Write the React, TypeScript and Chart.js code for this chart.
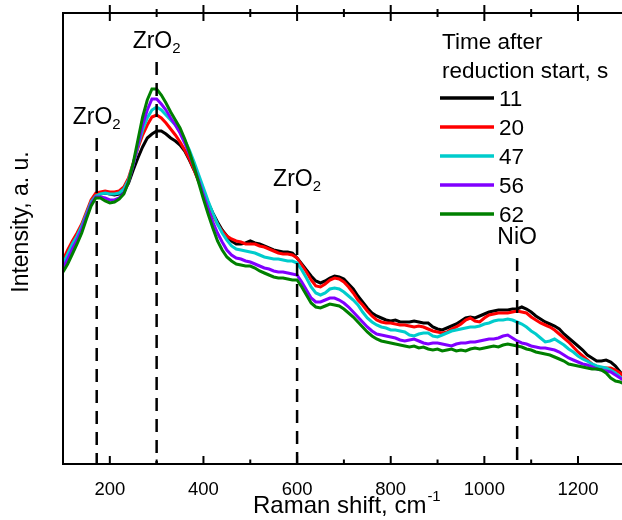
import React, { useEffect, useRef } from 'react';
import { Chart, registerables } from 'chart.js';

Chart.register(...registerables);

const FONT = '"Liberation Sans", Arial, sans-serif';

// Raman shift (cm-1) sample positions
const ramanShift = [
  100, 110, 120, 130, 140, 150, 160, 170, 180, 190,
  200, 210, 220, 230, 240, 250, 260, 270, 280, 290,
  300, 310, 320, 330, 340, 350, 360, 370, 380, 390,
  400, 410, 420, 430, 440, 450, 460, 470, 480, 490,
  500, 510, 520, 530, 540, 550, 560, 570, 580, 590,
  600, 610, 620, 630, 640, 650, 660, 670, 680, 690,
  700, 710, 720, 730, 740, 750, 760, 770, 780, 790,
  800, 810, 820, 830, 840, 850, 860, 870, 880, 890,
  900, 910, 920, 930, 940, 950, 960, 970, 980, 990,
  1000, 1010, 1020, 1030, 1040, 1050, 1060, 1070, 1080, 1090,
  1100, 1110, 1120, 1130, 1140, 1150, 1160, 1170, 1180, 1190,
  1200, 1210, 1220, 1230, 1240, 1250, 1260, 1270, 1280, 1290,
  1300,
];

// Intensity (a.u.) for each time after reduction start
const int11 = [
  199, 207, 217, 226, 236, 249, 261, 268, 270, 271,
  270, 269, 270, 273, 281, 294, 306, 317, 326, 330,
  333, 333, 330, 326, 323, 319, 313, 304, 294, 283,
  273, 261, 251, 242, 234, 228, 223, 220, 220, 221,
  223, 221, 220, 218, 216, 214, 213, 212, 212, 211,
  206, 200, 194, 188, 183, 181, 183, 186, 188, 187,
  185, 180, 175, 168, 162, 156, 151, 148, 146, 144,
  143, 144, 142, 142, 142, 143, 142, 141, 141, 137,
  135, 134, 136, 138, 140, 143, 146, 147, 146, 148,
  150, 152, 153, 154, 154, 154, 155, 155, 157, 155,
  152, 148, 145, 142, 140, 138, 135, 130, 126, 122,
  118, 114, 109, 106, 103, 103, 104, 102, 98, 92,
  88,
];
const int20 = [
  204, 214, 223, 231, 240, 252, 264, 271, 272, 273,
  272, 272, 273, 277, 286, 301, 316, 329, 339, 347,
  349, 346, 341, 335, 329, 322, 314, 305, 294, 282,
  271, 259, 249, 240, 233, 228, 225, 223, 222, 220,
  220, 220, 218, 217, 215, 213, 211, 210, 210, 209,
  206, 199, 192, 184, 178, 177, 180, 184, 186, 185,
  182, 177, 171, 164, 159, 153, 148, 144, 142, 141,
  141, 140, 139, 139, 138, 137, 138, 137, 135, 133,
  132, 131, 132, 135, 137, 140, 144, 146, 143, 142,
  146, 149, 150, 151, 151, 151, 152, 153, 152, 151,
  147, 144, 141, 139, 137, 134, 130, 126, 122, 117,
  112, 108, 104, 100, 97, 96, 96, 96, 94, 91,
  86,
];
const int47 = [
  200, 210, 220, 228, 238, 250, 262, 268, 270, 271,
  270, 270, 271, 275, 284, 300, 318, 334, 346, 354,
  357, 354, 349, 344, 339, 332, 324, 314, 302, 289,
  276, 263, 251, 240, 231, 224, 218, 215, 214, 213,
  212, 211, 209, 207, 206, 205, 205, 204, 203, 203,
  201, 194, 186, 177, 171, 169, 171, 175, 176, 175,
  172, 168, 164, 159, 152, 146, 142, 139, 137, 136,
  134, 134, 133, 132, 129, 128, 130, 131, 131, 128,
  127, 129, 131, 133, 134, 135, 136, 137, 137, 138,
  140, 141, 143, 144, 144, 145, 144, 142, 140, 137,
  133, 130, 126, 122, 123, 125, 122, 119, 115, 112,
  108, 105, 103, 100, 98, 97, 96, 94, 91, 87,
  84,
];
const int56 = [
  196, 205, 215, 224, 235, 248, 260, 267, 267, 266,
  264, 264, 266, 271, 282, 299, 319, 339, 354, 365,
  365, 360, 354, 346, 339, 331, 321, 310, 297, 283,
  269, 255, 242, 231, 222, 214, 209, 206, 205, 203,
  202, 200, 198, 196, 195, 193, 192, 192, 191, 190,
  189, 182, 174, 166, 162, 162, 164, 166, 166, 164,
  161, 157, 152, 147, 142, 137, 133, 130, 129, 128,
  127, 126, 124, 123, 124, 125, 123, 121, 120, 121,
  121, 120, 119, 118, 120, 121, 121, 122, 122, 123,
  124, 125, 125, 126, 128, 129, 126, 123, 121, 120,
  118, 117, 116, 116, 115, 114, 112, 109, 106, 104,
  102, 100, 99, 97, 95, 94, 93, 92, 89, 86,
  83,
];
const int62 = [
  192, 200, 210, 220, 231, 245, 258, 266, 266, 263,
  261, 262, 265, 270, 282, 301, 324, 347, 364, 375,
  375, 369, 361, 352, 344, 336, 325, 312, 297, 281,
  265, 250, 236, 223, 214, 207, 203, 200, 199, 198,
  198, 196, 193, 191, 189, 187, 186, 186, 185, 184,
  184, 177, 169, 161, 157, 156, 158, 160, 159, 158,
  155, 151, 147, 142, 137, 132, 128, 125, 123, 122,
  121, 120, 119, 118, 117, 118, 116, 117, 115, 114,
  115, 113, 114, 115, 113, 114, 113, 115, 116, 115,
  116, 117, 118, 117, 119, 120, 119, 118, 117, 115,
  114, 112, 111, 110, 109, 107, 105, 103, 100, 99,
  98, 97, 96, 95, 95, 94, 91, 86, 83, 82,
  80,
];

const seriesLabels = ['11', '20', '47', '56', '62'];
const seriesValues = [int11, int20, int47, int56, int62];
const seriesColors = ['#000000', '#ff0000', '#00cccc', '#8000ff', '#008000'];

const legendTitle = ['Time after', 'reduction start, s'];

// Reference band positions (cm-1), top of dashed marker (intensity), labels
const markerShift = [172, 300, 600, 1070];
const markerTop = [326, 402, 264, 206];
const markerMain = ['ZrO', 'ZrO', 'ZrO', 'NiO'];
const markerSub = ['2', '2', '2', ''];

const majorTicks = [200, 400, 600, 800, 1000, 1200];
const minorTicks = [300, 500, 700, 900, 1100];

const decor = {
  id: 'decor',
  afterDatasetsDraw(chart: any) {
    const { ctx, chartArea: a, scales } = chart;
    const x = scales.x;
    const y = scales.y;
    ctx.save();
    ctx.strokeStyle = '#000';
    ctx.fillStyle = '#000';
    ctx.lineWidth = 2.5;
    ctx.setLineDash([13, 8]);
    markerShift.forEach((m, i) => {
      const px = x.getPixelForValue(m);
      const top = y.getPixelForValue(markerTop[i]);
      ctx.beginPath();
      ctx.moveTo(px, top);
      ctx.lineTo(px, a.bottom);
      ctx.stroke();
    });
    ctx.setLineDash([]);
    ctx.restore();
  },
  afterDraw(chart: any) {
    const { ctx, chartArea: a, scales } = chart;
    const x = scales.x;
    const y = scales.y;
    ctx.save();
    ctx.strokeStyle = '#000';
    ctx.fillStyle = '#000';
    ctx.lineWidth = 2;
    // frame
    ctx.beginPath();
    ctx.moveTo(a.right + 2, a.top);
    ctx.lineTo(a.left, a.top);
    ctx.lineTo(a.left, a.bottom);
    ctx.lineTo(a.right + 2, a.bottom);
    ctx.stroke();
    // ticks and tick labels
    ctx.font = `18.5px ${FONT}`;
    ctx.textAlign = 'center';
    ctx.textBaseline = 'alphabetic';
    majorTicks.forEach((t) => {
      const px = x.getPixelForValue(t);
      ctx.beginPath();
      ctx.moveTo(px, a.bottom);
      ctx.lineTo(px, a.bottom - 8);
      ctx.moveTo(px, a.top - 8);
      ctx.lineTo(px, a.top + 8);
      ctx.stroke();
      ctx.fillText(String(t), px, a.bottom + 31);
    });
    minorTicks.forEach((t) => {
      const px = x.getPixelForValue(t);
      ctx.beginPath();
      ctx.moveTo(px, a.bottom);
      ctx.lineTo(px, a.bottom - 4.5);
      ctx.moveTo(px, a.top - 4);
      ctx.lineTo(px, a.top + 4);
      ctx.stroke();
    });

    // marker labels
    ctx.textAlign = 'left';
    markerShift.forEach((m, i) => {
      const px = x.getPixelForValue(m);
      const top = y.getPixelForValue(markerTop[i]);
      ctx.font = `23px ${FONT}`;
      const w1 = ctx.measureText(markerMain[i]).width;
      ctx.font = `15px ${FONT}`;
      const w2 = markerSub[i] ? ctx.measureText(markerSub[i]).width : 0;
      const sx = px - (w1 + w2) / 2;
      const base = top - 14;
      ctx.font = `23px ${FONT}`;
      ctx.fillText(markerMain[i], sx, base);
      if (markerSub[i]) {
        ctx.font = `15px ${FONT}`;
        ctx.fillText(markerSub[i], sx + w1, base + 5);
      }
    });

    // axis titles
    ctx.font = `24px ${FONT}`;
    const xt = 'Raman shift, cm';
    const wx = ctx.measureText(xt).width;
    ctx.fillText(xt, 253, 513);
    ctx.font = `15px ${FONT}`;
    ctx.fillText('-1', 253 + wx + 1, 501);

    ctx.save();
    ctx.translate(28, 222);
    ctx.rotate(-Math.PI / 2);
    ctx.textAlign = 'center';
    ctx.font = `23px ${FONT}`;
    ctx.fillText('Intensity, a. u.', 0, 0);
    ctx.restore();

    // legend
    ctx.font = `22.5px ${FONT}`;
    ctx.textAlign = 'left';
    legendTitle.forEach((t, i) => ctx.fillText(t, 442, 49 + i * 29));
    chart.data.datasets.forEach((ds: any, i: number) => {
      const base = 106 + i * 29;
      ctx.strokeStyle = ds.borderColor;
      ctx.lineWidth = 3.5;
      ctx.beginPath();
      ctx.moveTo(440, base - 8);
      ctx.lineTo(494, base - 8);
      ctx.stroke();
      ctx.fillStyle = '#000';
      ctx.fillText(ds.label, 499, base);
    });
    ctx.restore();
  },
};

export default function App() {
  const ref = useRef<HTMLCanvasElement | null>(null);
  useEffect(() => {
    if (!ref.current) return;
    const chart = new Chart(ref.current, {
      type: 'line',
      data: {
        datasets: seriesValues.map((vals, i) => ({
          label: seriesLabels[i],
          data: ramanShift.map((xv, j) => ({ x: xv, y: vals[j] })),
          borderColor: seriesColors[i],
          backgroundColor: seriesColors[i],
          borderWidth: 3,
          pointRadius: 0,
          tension: 0,
          fill: false,
          order: seriesLabels.length - 1 - i,
        })),
      },
      options: {
        animation: false,
        responsive: false,
        devicePixelRatio: 1,
        events: [],
        layout: { padding: { top: 13, left: 0, right: 0, bottom: 0 } },
        plugins: { legend: { display: false }, tooltip: { enabled: false } },
        scales: {
          x: {
            type: 'linear',
            position: 'bottom',
            min: 100,
            max: 1294,
            afterFit: (s: any) => {
              s.height = 56;
              s.paddingLeft = 0;
              s.paddingRight = 0;
            },
            grid: { display: false, drawTicks: false },
            border: { display: false },
            ticks: { display: false, padding: 0 },
          },
          y: {
            type: 'linear',
            min: 0,
            max: 451,
            afterFit: (s: any) => {
              s.width = 63;
            },
            grid: { display: false, drawTicks: false },
            border: { display: false },
            ticks: { display: false, padding: 0 },
          },
        },
      },
      plugins: [decor],
    } as any);
    return () => chart.destroy();
  }, []);
  return (
    <div style={{ position: 'fixed', left: 0, top: 0, width: 622, height: 520, background: '#fff' }}>
      <canvas ref={ref} width={622} height={520} style={{ display: 'block' }} />
    </div>
  );
}
